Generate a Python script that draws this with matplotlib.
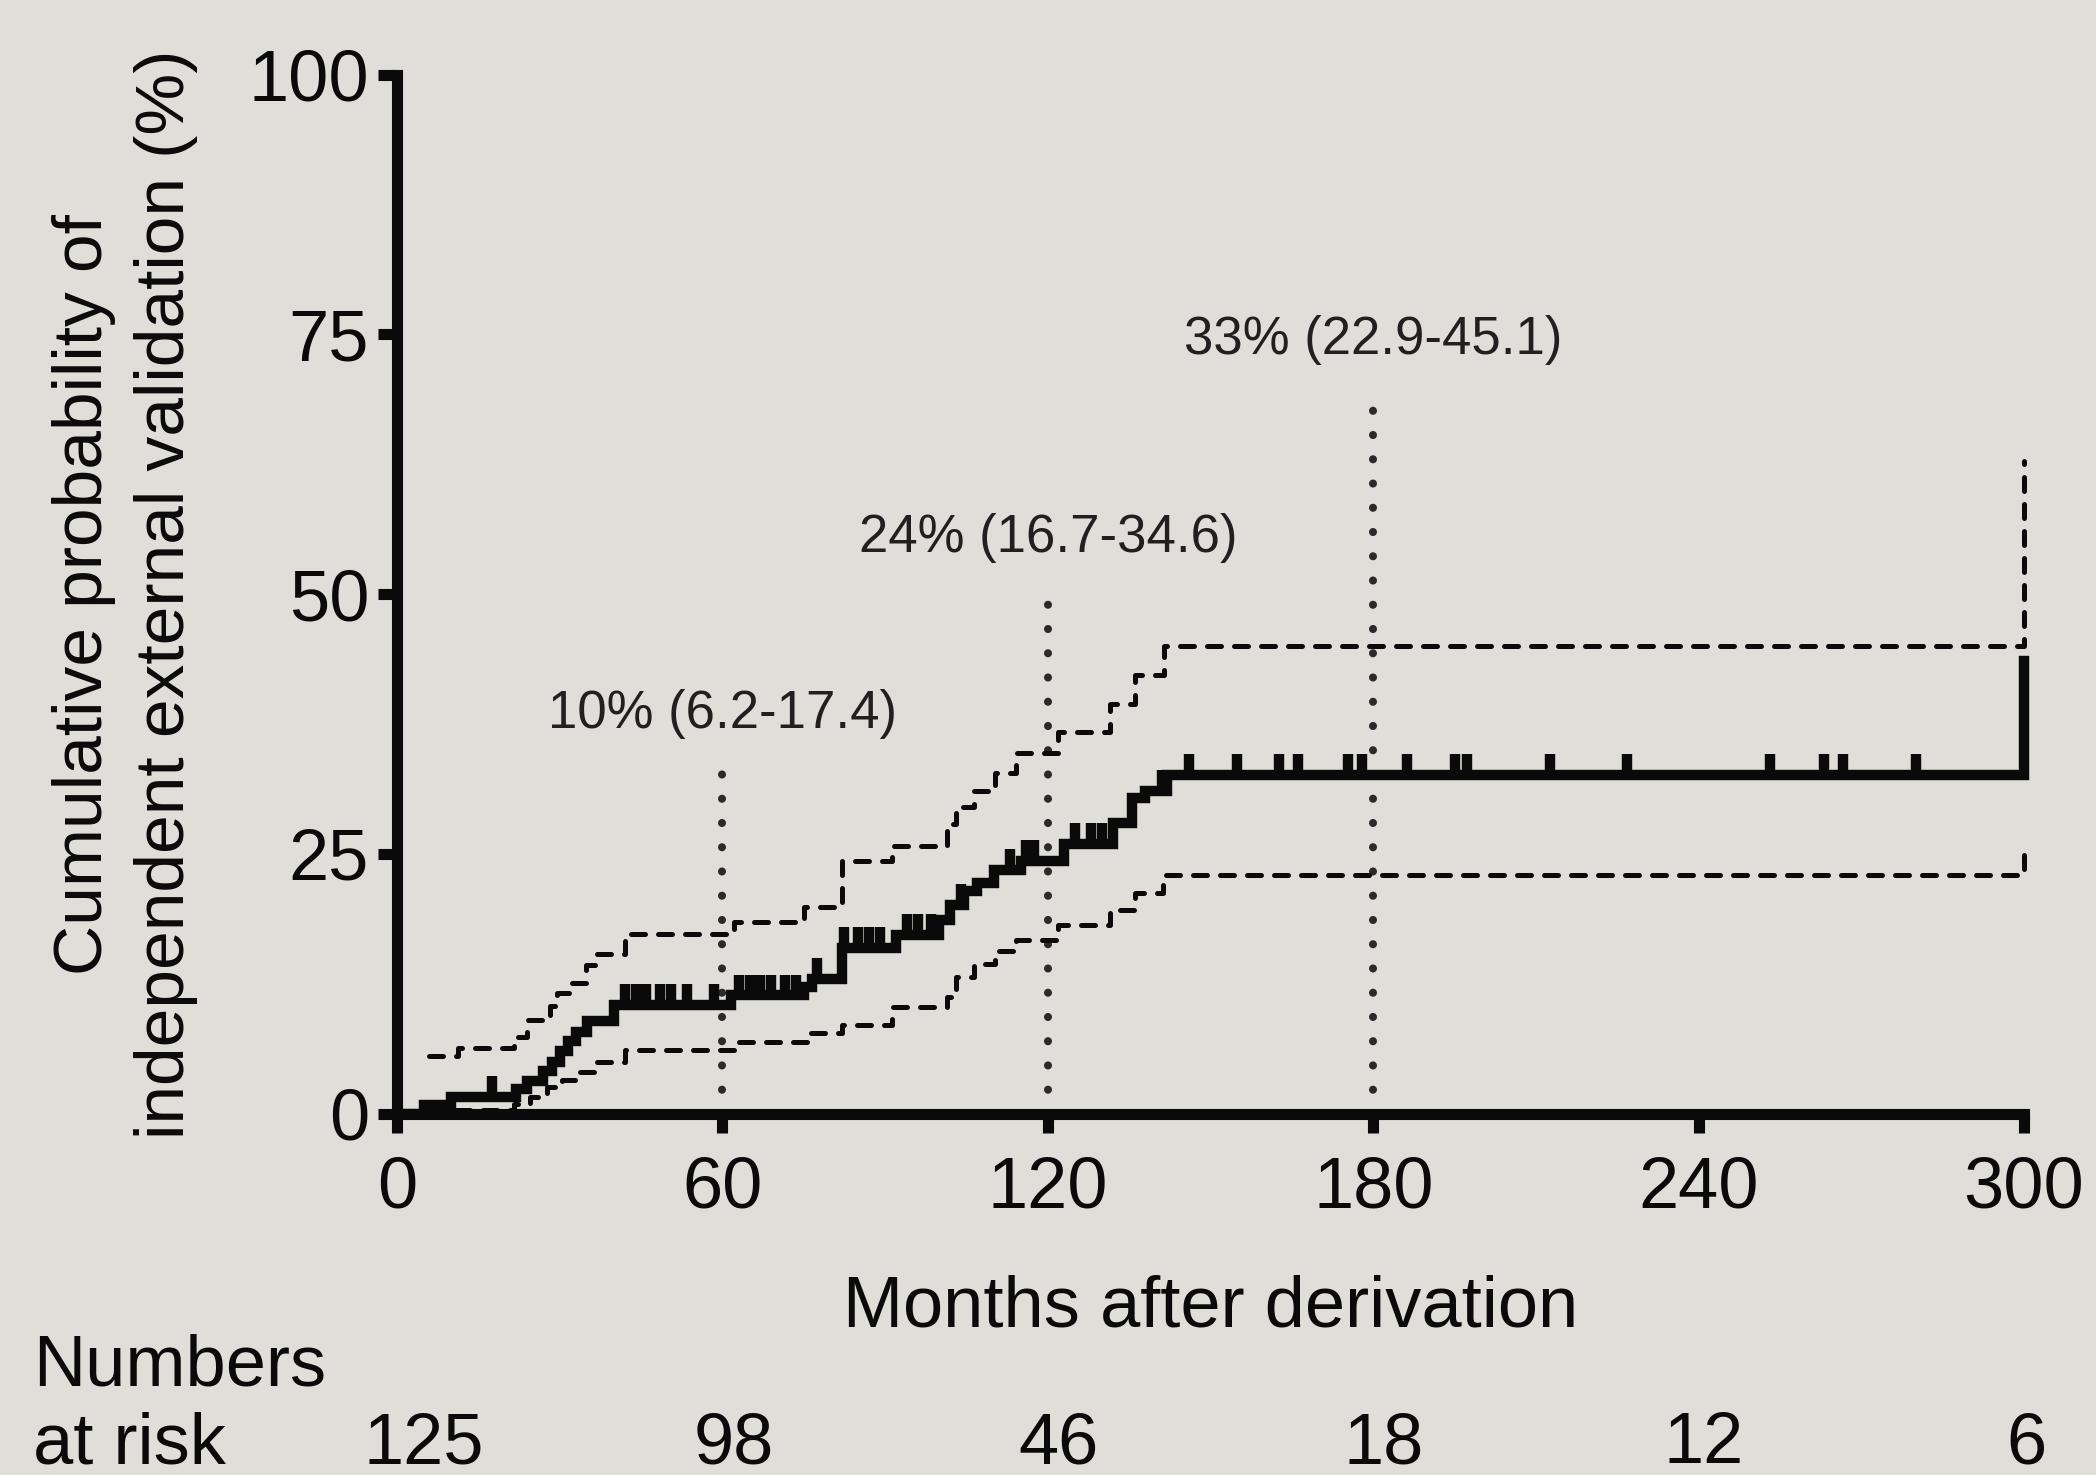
import numpy as np
import matplotlib
matplotlib.use('Agg')
import matplotlib.pyplot as plt
import matplotlib.transforms as mtransforms

plt.rcParams['font.family'] = ['Liberation Sans', 'DejaVu Sans']

# Kaplan-Meier cumulative incidence (months, %)
km_t = [0, 5, 10, 22, 24, 27, 28.5, 30, 31.5, 33, 35, 40, 61.5, 75, 76.5, 82, 92,
        100, 102, 104.5, 107, 110, 115, 123, 132, 135.5, 138, 142, 300]
km_y = [0, 0.8, 1.6, 2.4, 3.2, 4.1, 5.0, 6.0, 7.0, 7.9, 8.9, 10.5, 11.4, 12.2, 13.0, 16.0, 17.2,
        18.6, 20.1, 21.4, 22.2, 23.5, 24.3, 26.0, 28.0, 30.4, 31.1, 32.6, 43.6]

# 95% CI bounds
hi_t = [5.9, 11.2, 21.5, 24.0, 28.3, 29.5, 32.0, 34.8, 36.9, 42.1, 62.1, 75.0, 82.0, 91.2,
        101.4, 103.0, 106.3, 110.3, 114.2, 121.9, 131.4, 136.0, 141.5, 300]
hi_y = [5.6, 6.3, 7.4, 9.0, 10.4, 11.6, 12.6, 14.3, 15.4, 17.3, 18.5, 19.9, 24.3, 25.8,
        27.9, 29.5, 31.1, 32.8, 34.7, 36.7, 39.4, 42.2, 45.0, 62.8]
lo_t = [5.9, 21.5, 24.5, 27.6, 30.4, 33.4, 36.4, 42.1, 62.1, 75.6, 82.0, 91.2, 101.4, 103.0,
        106.3, 110.3, 114.2, 121.9, 131.4, 136.0, 141.3, 300]
lo_y = [0.4, 0.9, 1.65, 2.55, 3.25, 4.05, 5.0, 6.15, 6.95, 7.75, 8.55, 10.3, 11.25, 13.15,
        14.45, 15.65, 16.75, 18.15, 19.65, 21.25, 22.95, 25.2]

# censored observations (months)
censor_t = [17.5, 42, 44, 46, 48.5, 50.5, 53.5, 58.5, 63, 65, 67, 69, 71.5, 73.5, 77.5,
            82.5, 85, 87, 89, 94, 96, 98.5, 104, 113, 116, 117.5, 125, 128, 130, 141, 146,
            154.8, 162.7, 166.2, 175.3, 177.9, 186.2, 195, 197.3, 212.6, 226.7, 253.1,
            263.1, 266.6, 280.1]

# milestone estimates
mark_t = [60, 120, 180]
mark_top = [33, 50, 69]
mark_labels = ['10% (6.2-17.4)', '24% (16.7-34.6)', '33% (22.9-45.1)']

risk_t = [0, 60, 120, 180, 240, 300]
risk_n = [125, 98, 46, 18, 12, 6]

bg = '#e0ded8'
ink = '#0a0a0a'

fig = plt.figure(figsize=(20.96, 14.75), dpi=100, facecolor=bg)
ax = fig.add_axes([0.1894, 0.2449, 0.7763, 0.7045], facecolor=bg)

# dotted milestone lines
ax.vlines(mark_t, 0, mark_top, colors='#2a2a2a', lw=5.8,
          linestyles=[(0, (0.01, 3.0))], capstyle='round', zorder=2)
for t, top, lab in zip(mark_t, mark_top, mark_labels):
    ax.text(t, top + 4.1, lab, ha='center', va='baseline', fontsize=38, color='#231f20')

# confidence bounds
for tt, yy in [(hi_t, hi_y), (lo_t, lo_y)]:
    ax.step(tt, yy, where='post', color=ink, lw=3.6, linestyle=(0, (2.8, 2.6)),
            dash_capstyle='round', clip_on=False, zorder=3)

# main curve
ax.step(km_t, km_y, where='post', color=ink, lw=7.5, solid_joinstyle='miter',
        clip_on=False, zorder=4)
idx = np.searchsorted(km_t, censor_t, side='right') - 1
cy = np.array(km_y)[idx]
ax.vlines(censor_t, cy, cy + 2.0, colors=ink, lw=7.5, zorder=4)

ax.set_xlim(0, 300)
ax.set_ylim(0, 100)
ax.set_xticks(risk_t)
ax.set_yticks([0, 25, 50, 75, 100])
for s in ['top', 'right']:
    ax.spines[s].set_visible(False)
for s in ['left', 'bottom']:
    ax.spines[s].set_linewidth(8)
    ax.spines[s].set_color(ink)
    ax.spines[s].set_capstyle('projecting')
ax.tick_params(axis='both', direction='out', length=14, width=8, color=ink,
               labelsize=52, labelcolor=ink)
ax.tick_params(axis='x', pad=16)
ax.tick_params(axis='y', pad=6)

ax.set_ylabel('Cumulative probability of\nindependent external validation (%)',
              fontsize=50, color=ink, linespacing=1.37)
ax.yaxis.set_label_coords(-0.122, 0.5)
ax.set_xlabel('Months after derivation', fontsize=52, color=ink)
ax.xaxis.set_label_coords(0.5, -0.155)

# numbers at risk
trans = mtransforms.blended_transform_factory(ax.transData, fig.transFigure)
fig.text(0.0157, 0.061, 'Numbers', fontsize=52, color=ink, ha='left', va='baseline')
fig.text(0.0157, 0.0081, 'at risk', fontsize=52, color=ink, ha='left', va='baseline')
risk_offset = [5, 2, 2, 2, 1, 0.5]
for t, n, off in zip(risk_t, risk_n, risk_offset):
    ax.text(t + off, 0.0081, str(n), transform=trans, fontsize=52, color=ink,
            ha='center', va='baseline')

fig.savefig('out.png', dpi=100, facecolor=bg)
